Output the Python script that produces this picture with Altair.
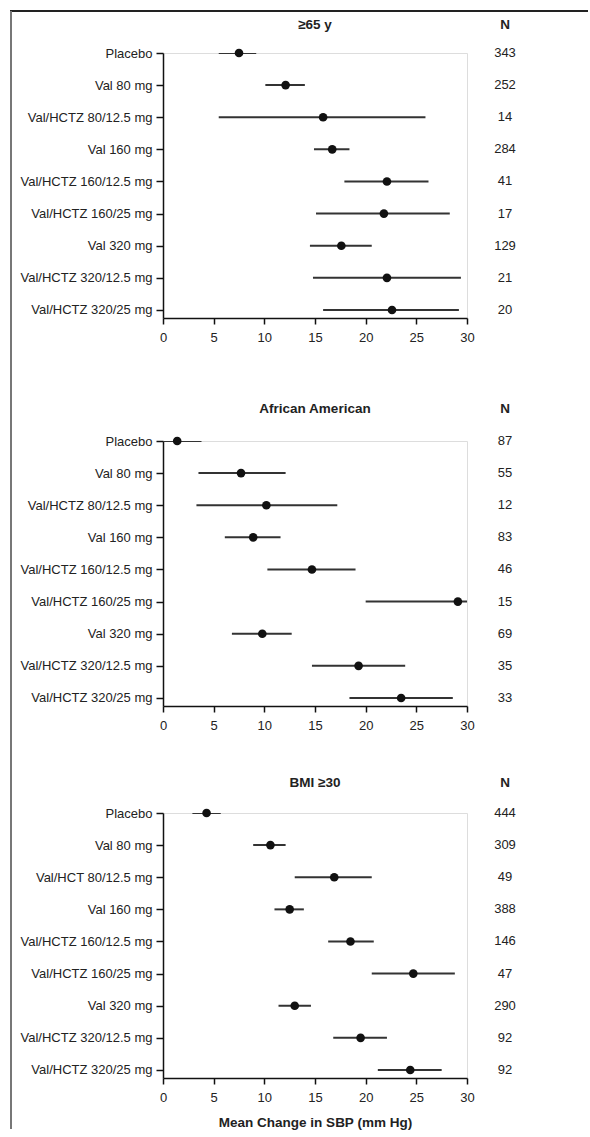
import altair as alt
import pandas as pd

# ---------------- data ----------------
rows = ["Placebo", "Val 80 mg", "Val/HCTZ 80/12.5 mg", "Val 160 mg",
        "Val/HCTZ 160/12.5 mg", "Val/HCTZ 160/25 mg", "Val 320 mg",
        "Val/HCTZ 320/12.5 mg", "Val/HCTZ 320/25 mg"]
rows_bmi = ["Placebo", "Val 80 mg", "Val/HCT 80/12.5 mg", "Val 160 mg",
            "Val/HCTZ 160/12.5 mg", "Val/HCTZ 160/25 mg", "Val 320 mg",
            "Val/HCTZ 320/12.5 mg", "Val/HCTZ 320/25 mg"]

age_mean = [7.5, 12.1, 15.8, 16.7, 22.1, 21.8, 17.6, 22.1, 22.6]
age_lo = [5.5, 10.1, 5.5, 14.9, 17.9, 15.1, 14.5, 14.8, 15.8]
age_hi = [9.2, 14.0, 25.9, 18.4, 26.2, 28.3, 20.6, 29.4, 29.2]
age_n = [343, 252, 14, 284, 41, 17, 129, 21, 20]

aa_mean = [1.4, 7.7, 10.2, 8.9, 14.7, 29.1, 9.8, 19.3, 23.5]
aa_lo = [-1.0, 3.5, 3.3, 6.1, 10.3, 20.0, 6.8, 14.7, 18.4]
aa_hi = [3.8, 12.1, 17.2, 11.6, 19.0, 30.5, 12.7, 23.9, 28.6]
aa_n = [87, 55, 12, 83, 46, 15, 69, 35, 33]

bmi_mean = [4.3, 10.6, 16.9, 12.5, 18.5, 24.7, 13.0, 19.5, 24.4]
bmi_lo = [2.9, 8.9, 13.0, 11.0, 16.3, 20.6, 11.4, 16.8, 21.2]
bmi_hi = [5.7, 12.1, 20.6, 13.9, 20.8, 28.8, 14.6, 22.1, 27.5]
bmi_n = [444, 309, 49, 388, 146, 47, 290, 92, 92]

x_ticks = [0, 5, 10, 15, 20, 25, 30]
x_title = "Mean Change in SBP (mm Hg)"

FONT = "Liberation Sans"
FS = 13
TFS = 13.5
W, H = 304, 265
N_X = 342


def panel(title, labels, mean, lo, hi, n, title_dy, x_axis_title=None, frame=False):
    df = pd.DataFrame({
        "row": list(range(len(labels))),
        "label": labels,
        "mean": mean,
        "lo": lo,
        "hi": hi,
        "n": [str(v) for v in n],
    })
    label_expr = "[" + ",".join("'%s'" % l for l in labels) + "][datum.value]"
    xaxis_kw = dict(values=x_ticks, grid=False, tickSize=6, labelPadding=7,
                    labelFlush=False, labelOverlap=False, domainColor="#111",
                    domainWidth=1.5, tickColor="#111", tickWidth=1.5,
                    labelFontSize=FS, labelColor="#222", labelFont=FONT)
    if x_axis_title:
        xaxis = alt.Axis(title=x_axis_title, titleFontSize=TFS, titleFontWeight="bold",
                         titleColor="#222", titleFont=FONT, titlePadding=11, **xaxis_kw)
    else:
        xaxis = alt.Axis(title=None, **xaxis_kw)
    xscale = alt.Scale(domain=[0, 30], nice=False, zero=False)
    yscale = alt.Scale(domain=[0, 8.25], reverse=True, nice=False, zero=False)
    yaxis = alt.Axis(values=list(range(len(labels))), labelExpr=label_expr, title=None,
                     grid=False, tickSize=7, labelPadding=4, domainColor="#111",
                     domainWidth=1.5, tickColor="#111", tickWidth=1.5, labelFontSize=FS,
                     labelColor="#222", labelFont=FONT, labelFlush=False,
                     labelOverlap=False, labelSeparation=0)
    yenc = alt.Y("row:Q", scale=yscale, axis=yaxis)
    base = alt.Chart(df)
    bars = base.mark_rule(color="#333", strokeWidth=2, clip=True).encode(
        x=alt.X("lo:Q", scale=xscale, axis=xaxis),
        x2="hi:Q",
        y=yenc,
    )
    dots = base.mark_circle(size=75, color="#111", opacity=1).encode(
        x=alt.X("mean:Q", scale=xscale, axis=xaxis), y=yenc)
    ntext = base.mark_text(fontSize=FS, color="#222", baseline="middle", align="center",
                           font=FONT).encode(x=alt.value(N_X), y=yenc, text="n:N")
    head = alt.Chart(pd.DataFrame({"t": [title], "h": ["N"]}))
    t1 = head.mark_text(fontSize=TFS, fontWeight="bold", color="#222", baseline="middle",
                        align="center", font=FONT).encode(
        x=alt.value(W / 2), y=alt.value(title_dy), text="t:N")
    t2 = head.mark_text(fontSize=TFS, fontWeight="bold", color="#222", baseline="middle",
                        align="center", font=FONT).encode(
        x=alt.value(N_X), y=alt.value(title_dy), text="h:N")
    layers = [bars, dots, ntext, t1, t2]
    if frame:
        fdf = alt.Chart(pd.DataFrame({"k": [0]}))
        top = fdf.mark_rule(color="#222", strokeWidth=2).encode(
            x=alt.value(-153), x2=alt.value(425), y=alt.value(-42))
        left = fdf.mark_rule(color="#777", strokeWidth=2).encode(
            x=alt.value(-152), y=alt.value(-42), y2=alt.value(1076))
        layers = [top, left] + layers
    return alt.layer(*layers).properties(width=W, height=H)


p1 = panel("≥65 y", rows, age_mean, age_lo, age_hi, age_n, -28, frame=True)
p2 = panel("African American", rows, aa_mean, aa_lo, aa_hi, aa_n, -32)
p3 = panel("BMI ≥30", rows_bmi, bmi_mean, bmi_lo, bmi_hi, bmi_n, -30, x_axis_title=x_title)

chart = alt.vconcat(
    p1,
    alt.vconcat(p2, p3, spacing=107, bounds="flush"),
    spacing=123,
    bounds="flush",
).properties(
    padding={"left": 8, "top": 9, "right": 0, "bottom": 0},
    background="white",
).configure_view(stroke=None).configure_axis(
    labelOverlap=False, labelFlush=False
).configure(font=FONT)

chart.save("out.html", embed_options={"renderer": "svg", "actions": False})
